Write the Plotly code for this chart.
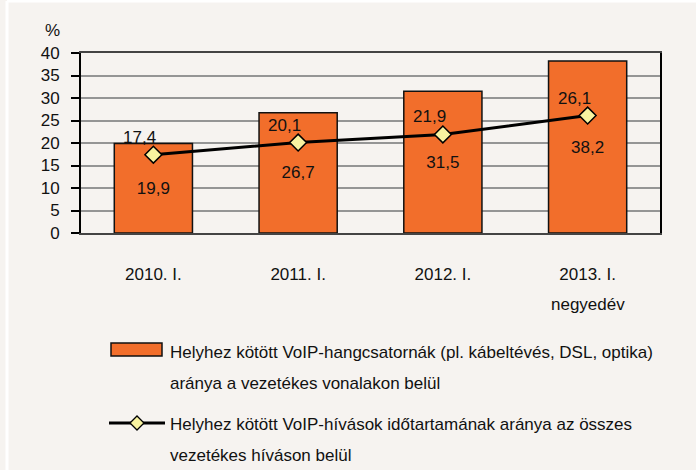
import plotly.graph_objects as go

categories = ["2010. I.", "2011. I.", "2012. I.", "2013. I. negyedév"]
tick_labels = ["2010. I.", "2011. I.", "2012. I.", "2013. I."]
bar_values = [19.9, 26.7, 31.5, 38.2]
line_values = [17.4, 20.1, 21.9, 26.1]
bar_name = "Helyhez kötött VoIP-hangcsatornák (pl. kábeltévés, DSL, optika) aránya a vezetékes vonalakon belül"
line_name = "Helyhez kötött VoIP-hívások időtartamának aránya az összes vezetékes híváson belül"
legend_lines_bar = ["Helyhez kötött VoIP-hangcsatornák (pl. kábeltévés, DSL, optika)",
                    "aránya a vezetékes vonalakon belül"]
legend_lines_line = ["Helyhez kötött VoIP-hívások időtartamának aránya az összes",
                     "vezetékes híváson belül"]

W, H = 696, 470
L, R, T, B = 81, 660, 53, 233
FONT = "Liberation Sans, Arial, sans-serif"
FS = 17
BG = "#F6F3F0"
ORANGE = "#F26E2B"
YELLOW = "#F8F3A0"
TXT = "#111111"


def px(x):
    return (x - L) / (R - L)


def py(y):
    return (B - y) / (B - T)


def fmt(v):
    return f"{v:.1f}".replace(".", ",")


fig = go.Figure()
fig.add_trace(go.Bar(
    x=categories, y=bar_values, name=bar_name,
    marker=dict(color=ORANGE, line=dict(color=TXT, width=1.5)),
    texttemplate="%{y:.1f}", textposition="inside", insidetextanchor="middle",
    textfont=dict(family=FONT, size=FS, color=TXT),
    showlegend=False,
))
fig.add_trace(go.Scatter(
    x=categories, y=line_values, name=line_name, mode="lines+markers",
    line=dict(color="black", width=3),
    marker=dict(symbol="diamond", size=13, color=YELLOW, line=dict(color="black", width=1.5)),
    showlegend=False,
))

shapes = [
    dict(type="line", xref="paper", yref="paper", x0=px(7), x1=px(W + 5), y0=py(1), y1=py(1),
         line=dict(color="white", width=3)),
    dict(type="line", xref="paper", yref="paper", x0=px(7), x1=px(7), y0=py(1), y1=py(H + 5),
         line=dict(color="white", width=3)),
    dict(type="rect", xref="paper", yref="paper", x0=px(111), x1=px(162), y0=py(356), y1=py(343),
         fillcolor=ORANGE, line=dict(color=TXT, width=1.5)),
    dict(type="line", xref="paper", yref="paper", x0=px(109), x1=px(165), y0=py(423), y1=py(423),
         line=dict(color="black", width=3)),
]
cx, cy, hs = 137, 423, 7
shapes.append(dict(
    type="path", xref="paper", yref="paper",
    path=f"M {px(cx - hs)} {py(cy)} L {px(cx)} {py(cy - hs)} L {px(cx + hs)} {py(cy)} L {px(cx)} {py(cy + hs)} Z",
    fillcolor=YELLOW, line=dict(color="black", width=1.3)))

annotations = [
    dict(text="%", xref="paper", yref="paper", x=px(52), y=py(30), showarrow=False,
         font=dict(family=FONT, size=FS, color=TXT), xanchor="center", yanchor="middle"),
    dict(text="negyedév", xref="x", yref="paper", x=categories[3], y=py(304), showarrow=False,
         font=dict(family=FONT, size=FS, color=TXT), xanchor="center", yanchor="middle"),
]
for cat, v in zip(categories, line_values):
    annotations.append(dict(text=fmt(v), x=cat, y=v, xref="x", yref="y", showarrow=False,
                            xanchor="center", yanchor="middle", xshift=-13.5, yshift=17.5,
                            font=dict(family=FONT, size=FS, color=TXT)))
for txt, ypx in zip(legend_lines_bar + legend_lines_line, [352, 383, 425, 455]):
    annotations.append(dict(text=txt, xref="paper", yref="paper", x=px(168), y=py(ypx),
                            showarrow=False, xanchor="left", yanchor="middle",
                            font=dict(family=FONT, size=FS, color=TXT)))

fig.update_layout(
    width=W, height=H,
    margin=dict(l=L, r=W - R, t=T, b=H - B, pad=0),
    paper_bgcolor=BG, plot_bgcolor=BG,
    separators=", ",
    bargap=0.46,
    showlegend=False,
    shapes=shapes,
    annotations=annotations,
    font=dict(family=FONT, size=FS, color=TXT),
)
fig.update_xaxes(
    type="category", tickmode="array", tickvals=categories, ticktext=tick_labels,
    showgrid=False, ticks="", showline=True, linecolor="#444444", linewidth=2, mirror=True,
    tickfont=dict(family=FONT, size=FS, color=TXT), ticklabelstandoff=25,
)
fig.update_yaxes(
    range=[0, 40], dtick=5, showgrid=True, gridcolor="#959595", gridwidth=2,
    showline=True, linecolor="black", linewidth=2, mirror=True,
    ticks="outside", ticklen=8, tickwidth=2, tickcolor="black",
    tickfont=dict(family=FONT, size=FS, color=TXT), ticklabelstandoff=8,
    zeroline=False,
)
fig.update_layout(yaxis2=dict(
    overlaying="y", anchor="x", side="left", range=[0, 40], dtick=5,
    ticks="inside", ticklen=8, tickwidth=2, tickcolor="black",
    showticklabels=False, showgrid=False, showline=False, zeroline=False,
))

fig.write_html("out.html", config={"displayModeBar": False},
               post_script="document.body.style.margin='0';")
